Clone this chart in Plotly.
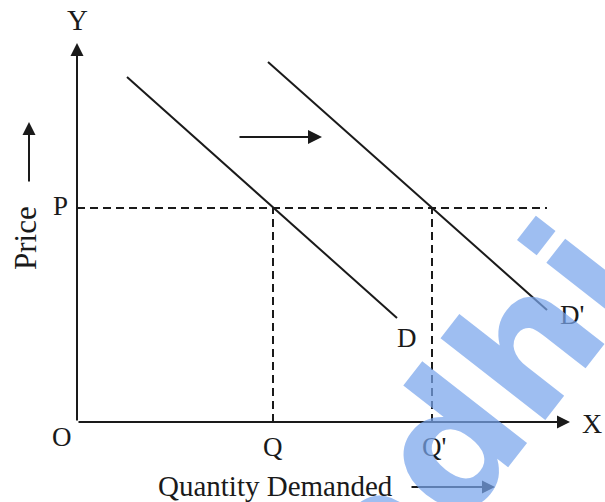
import plotly.graph_objects as go

# Economic diagram values (data units; origin O at (0,0))
P_level = 214
Q_qty = 196
Q2_qty = 355
D_x = [50, 320]
D_y = [345, 104]
D2_x = [191, 470]
D2_y = [360, 112]
x_axis_end = 493
y_axis_end = 379
shift_arrow_x = [161, 245]
shift_arrow_y = 285

FONT = "Liberation Serif, Times New Roman, serif"
INK = "#1a1a1a"

fig = go.Figure()

# Demand curves
fig.add_trace(go.Scatter(x=D_x, y=D_y, mode="lines", line=dict(color=INK, width=2), hoverinfo="skip"))
fig.add_trace(go.Scatter(x=D2_x, y=D2_y, mode="lines", line=dict(color=INK, width=2), hoverinfo="skip"))

# Dashed guides
dash = dict(color=INK, width=2, dash="8px,5px")
fig.add_trace(go.Scatter(x=[0, 470], y=[P_level, P_level], mode="lines", line=dash, hoverinfo="skip"))
fig.add_trace(go.Scatter(x=[Q_qty, Q_qty], y=[0, P_level], mode="lines", line=dash, hoverinfo="skip"))
fig.add_trace(go.Scatter(x=[Q2_qty, Q2_qty], y=[0, P_level], mode="lines", line=dash, hoverinfo="skip"))

def arrow(x0, y0, x1, y1, w=2, size=1.0):
    fig.add_annotation(x=x1, y=y1, ax=x0, ay=y0, xref="x", yref="y", axref="x", ayref="y",
                       showarrow=True, arrowhead=2, arrowsize=size, arrowwidth=w,
                       arrowcolor=INK, text="")

# Axes
arrow(0, 0, x_axis_end, 0, w=2, size=1.3)
arrow(0, 0, 0, y_axis_end, w=2, size=1.3)
# Shift arrow
arrow(shift_arrow_x[0], shift_arrow_y, shift_arrow_x[1], shift_arrow_y, w=2, size=1.4)
# Price arrow
arrow(-48, 239, -48, 300, w=2, size=1.3)
# Quantity arrow
arrow(333, -65, 418, -65, w=2, size=1.3)

def label(x, y, t, size=27, angle=0):
    fig.add_annotation(x=x, y=y, xref="x", yref="y", text=t, showarrow=False,
                       font=dict(family=FONT, size=size, color=INK), textangle=angle)

label(0, 402, "Y", size=29)
label(515, -1, "X", size=28)
label(-15, -15, "O")
label(Q_qty, -25, "Q")
label(Q2_qty + 2, -25, "Q'")
label(-17, P_level + 2, "P")
label(330, 84, "D")
label(495, 107, "D'")
label(-52, 184, "Price", size=31, angle=-90)
label(198, -64, "Quantity Demanded", size=29)

# Watermark
fig.add_annotation(x=393, y=5, xref="x", yref="y", text="<b>adhi</b>", showarrow=False,
                   font=dict(family="DejaVu Sans, Arial, sans-serif", size=175, color="rgba(120,165,235,0.72)"),
                   textangle=-52)

fig.update_layout(
    width=605, height=502, margin=dict(l=0, r=0, t=0, b=0),
    paper_bgcolor="white", plot_bgcolor="white", showlegend=False,
    xaxis=dict(range=[-77, 528], visible=False, fixedrange=True),
    yaxis=dict(range=[-80, 422], visible=False, fixedrange=True),
)

fig.write_html("out.html", post_script="document.body.style.margin='0';",
               config={"displayModeBar": False, "staticPlot": True})
